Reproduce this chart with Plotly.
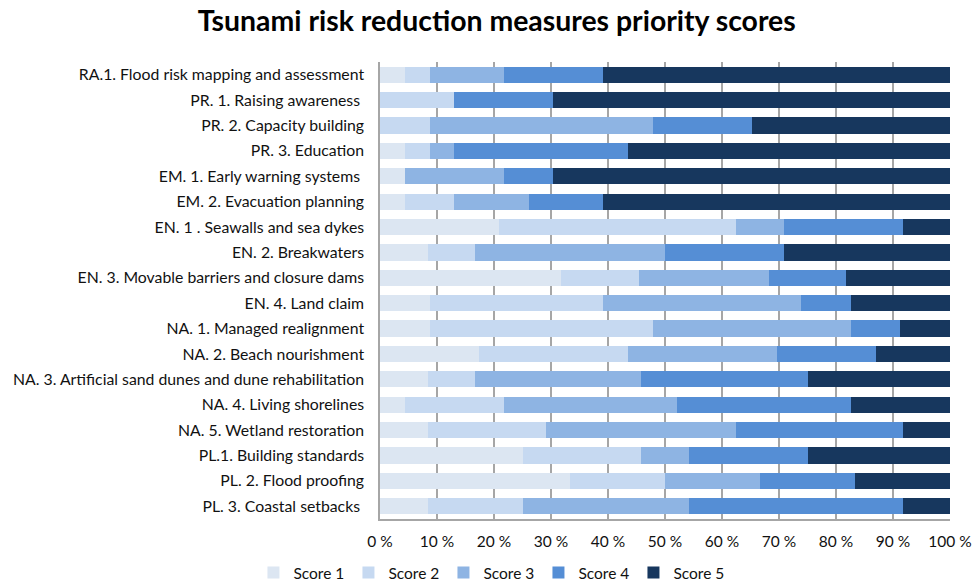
import plotly.graph_objects as go

categories = [
    "RA.1. Flood risk mapping and assessment",
    "PR. 1. Raising awareness ",
    "PR. 2. Capacity building",
    "PR. 3. Education",
    "EM. 1. Early warning systems ",
    "EM. 2. Evacuation planning",
    "EN. 1 . Seawalls and sea dykes",
    "EN. 2. Breakwaters",
    "EN. 3. Movable barriers and closure dams",
    "EN. 4. Land claim",
    "NA. 1. Managed realignment",
    "NA. 2. Beach nourishment",
    "NA. 3. Artificial sand dunes and dune rehabilitation",
    "NA. 4. Living shorelines",
    "NA. 5. Wetland restoration",
    "PL.1. Building standards",
    "PL. 2. Flood proofing",
    "PL. 3. Coastal setbacks ",
]

# Response counts per score (normalised to percent by the chart)
score1 = [1, 0, 0, 1, 1, 1, 5, 2, 7, 2, 2, 4, 2, 1, 2, 6, 8, 2]
score2 = [1, 3, 2, 1, 0, 2, 10, 2, 3, 7, 9, 6, 2, 4, 5, 5, 4, 4]
score3 = [3, 0, 9, 1, 4, 3, 2, 8, 5, 8, 8, 6, 7, 7, 8, 2, 4, 7]
score4 = [4, 4, 4, 7, 2, 3, 5, 5, 3, 2, 2, 4, 7, 7, 7, 5, 4, 9]
score5 = [14, 16, 8, 13, 16, 14, 2, 7, 4, 4, 2, 3, 6, 4, 2, 6, 4, 2]

series_names = ["Score 1", "Score 2", "Score 3", "Score 4", "Score 5"]
series_values = [score1, score2, score3, score4, score5]
colors = ["#DCE6F2", "#C6D9F1", "#8EB4E3", "#558ED5", "#17375E"]

tick_vals = [0, 10, 20, 30, 40, 50, 60, 70, 80, 90, 100]
tick_text = ["0 %", "10 %", "20 %", "30 %", "40 %", "50 %", "60 %", "70 %", "80 %", "90 %", "100 %"]

fig = go.Figure()
for name, vals, col in zip(series_names, series_values, colors):
    fig.add_trace(go.Bar(
        y=categories, x=vals, name=name, orientation="h",
        marker=dict(color=col, line=dict(width=0)),
    ))

font_family = "Lato, Carlito, 'Open Sans', sans-serif"
fig.update_layout(
    barmode="stack",
    barnorm="percent",
    bargap=0.36,
    width=974, height=583,
    margin=dict(l=380, r=24, t=62, b=64, autoexpand=False),
    paper_bgcolor="white", plot_bgcolor="white",
    font=dict(family=font_family, size=15.8, color="#111111"),
    title=dict(
        text="<b>Tsunami risk reduction measures priority scores</b>",
        x=0.51, xanchor="center", y=1 - 21 / 583, yanchor="middle",
        font=dict(family=font_family, size=28.4, color="#000000"),
    ),
    legend=dict(
        orientation="h", x=-0.222, xanchor="left", y=-0.118, yanchor="middle",
        font=dict(size=15.5), itemwidth=30, traceorder="normal",
        entrywidth=50, entrywidthmode="pixels",
    ),
    xaxis=dict(
        range=[0, 100], tickvals=tick_vals, ticktext=tick_text,
        showgrid=True, gridcolor="#A6A6A6", gridwidth=1.5,
        showline=True, linecolor="#A6A6A6", linewidth=1.5,
        zeroline=False, ticks="", ticklabelstandoff=8, automargin=False,
        tickfont=dict(size=15.5),
    ),
    yaxis=dict(
        categoryorder="array", categoryarray=categories, autorange="reversed",
        showline=True, linecolor="#A6A6A6", linewidth=1.5,
        ticks="", ticklabelstandoff=11, showgrid=False, automargin=False,
    ),
)

fig.write_html("out.html", config={"displayModeBar": False},
               post_script="document.body.style.margin='0';")
